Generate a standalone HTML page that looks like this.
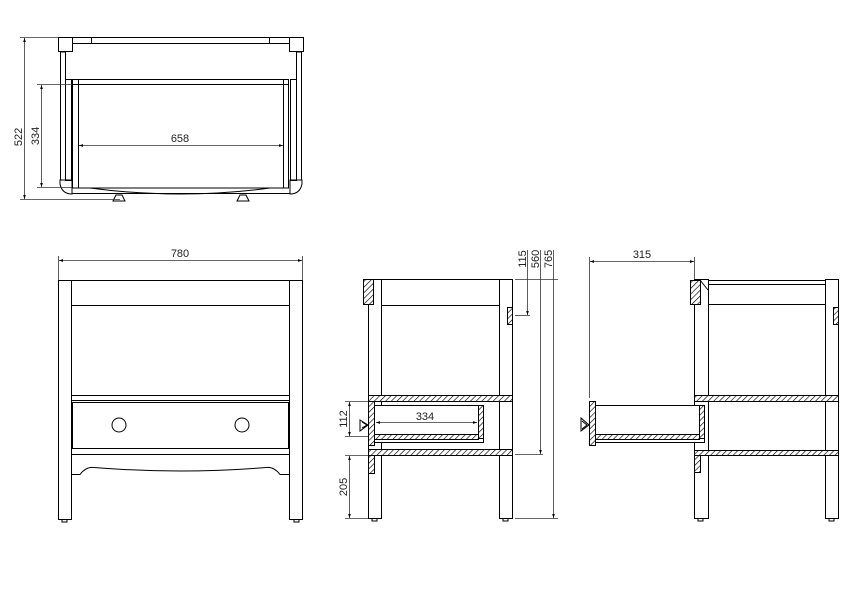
<!DOCTYPE html>
<html><head><meta charset="utf-8"><style>
html,body{margin:0;padding:0;background:#fff;}
svg{display:block;}
text{font-family:"Liberation Sans",sans-serif;font-size:11px;fill:#222;}
</style></head><body>
<svg width="853" height="598" viewBox="0 0 853 598" xmlns="http://www.w3.org/2000/svg">
<defs>
<pattern id="h" patternUnits="userSpaceOnUse" width="4" height="4" patternTransform="rotate(45)">
<rect width="4" height="4" fill="#fff"/><line x1="0" y1="0" x2="0" y2="4" stroke="#000" stroke-width="1.3"/>
</pattern>
<marker id="a" viewBox="0 0 6 6" refX="6" refY="3" markerWidth="5" markerHeight="5" orient="auto-start-reverse"><path d="M0,1 L6,3 L0,5z" fill="#000"/></marker>
</defs>
<g fill="none" stroke="#000" stroke-width="1">
<!-- TOP VIEW -->
<rect x="58.5" y="37.5" width="14" height="14" fill="#fff"/>
<rect x="289.5" y="37.5" width="14" height="14" fill="#fff"/>
<rect x="72.5" y="37.5" width="217" height="6"/>
<line x1="91.5" y1="37" x2="91.5" y2="43"/><line x1="269.5" y1="37" x2="269.5" y2="43"/>
<rect x="60.5" y="52" width="5" height="128"/>
<rect x="296.5" y="52" width="5" height="128"/>
<rect x="65.5" y="79.5" width="6" height="101"/>
<rect x="290.5" y="79.5" width="6" height="101"/>
<rect x="72.5" y="79.5" width="216" height="108.5"/>
<line x1="72" y1="84.5" x2="289" y2="84.5"/>
<line x1="78.5" y1="80" x2="78.5" y2="188"/><line x1="283.5" y1="80" x2="283.5" y2="188"/>
<path d="M60,180 h12 v14 q-10,0 -12,-10z"/>
<path d="M302,180 h-12 v14 q10,0 12,-10z"/>
<line x1="72" y1="193.5" x2="290" y2="193.5"/>
<path d="M90,188 q90,12 180,0"/>
<path d="M113,201 l3,-6 h6 l3,6z M237,201 l3,-6 h6 l3,6z"/>
<!-- top dims -->
<g stroke="#333" stroke-width="0.8">
<line x1="20" y1="37.5" x2="58" y2="37.5"/><line x1="20" y1="199.5" x2="120" y2="199.5"/>
<line x1="24.5" y1="38" x2="24.5" y2="199" marker-start="url(#a)" marker-end="url(#a)"/>
<line x1="37" y1="84.5" x2="72" y2="84.5"/><line x1="37" y1="187.5" x2="72" y2="187.5"/>
<line x1="41.5" y1="85" x2="41.5" y2="187" marker-start="url(#a)" marker-end="url(#a)"/>
<line x1="79" y1="145.5" x2="283" y2="145.5" marker-start="url(#a)" marker-end="url(#a)"/>
</g>
<!-- FRONT VIEW -->
<rect x="58.5" y="280.5" width="13" height="239"/>
<rect x="289.5" y="280.5" width="13" height="239"/>
<line x1="71" y1="280.5" x2="290" y2="280.5"/>
<line x1="71" y1="305.5" x2="290" y2="305.5"/>
<line x1="71" y1="395.5" x2="290" y2="395.5"/>
<line x1="71" y1="400.5" x2="290" y2="400.5"/>
<rect x="72.5" y="402.5" width="216" height="46"/>
<line x1="71" y1="454.5" x2="290" y2="454.5"/>
<path d="M71,474.5 h9 q6,-8 14,-7 q86,7 172,0 q8,-1 14,7 h9"/>
<circle cx="119" cy="425" r="7"/><circle cx="242" cy="425" r="7"/>
<rect x="62" y="519.5" width="5" height="2.5"/><rect x="294" y="519.5" width="5" height="2.5"/>
<g stroke="#333" stroke-width="0.8">
<line x1="58.5" y1="256" x2="58.5" y2="280"/><line x1="302.5" y1="256" x2="302.5" y2="280"/>
<line x1="59" y1="260.5" x2="302" y2="260.5" marker-start="url(#a)" marker-end="url(#a)"/>
</g>
<!-- SIDE VIEW -->
<rect x="368.5" y="279.5" width="13" height="239"/>
<rect x="499.5" y="279.5" width="13" height="239"/>
<rect x="381.5" y="279.5" width="118" height="26"/>
<rect x="363.5" y="279.5" width="10" height="25" fill="url(#h)"/>
<rect x="507.5" y="307.5" width="5" height="17" fill="url(#h)"/>
<rect x="368.5" y="395.5" width="144" height="6" fill="url(#h)"/>
<rect x="368.5" y="449.5" width="144" height="6" fill="url(#h)"/>
<rect x="373.5" y="405.5" width="110" height="37" fill="#fff"/>
<rect x="368.5" y="401.5" width="6" height="44" fill="url(#h)"/>
<rect x="478.5" y="405.5" width="5" height="33" fill="url(#h)"/>
<rect x="374.5" y="434.5" width="104" height="5" fill="url(#h)"/>
<rect x="368.5" y="455.5" width="6" height="18" fill="url(#h)"/>
<path d="M360,420 l8,5 l-8,6z M362,422 l5,3 l-5,3"/>
<rect x="372" y="518.5" width="5" height="2.5"/><rect x="503" y="518.5" width="5" height="2.5"/>
<g stroke="#333" stroke-width="0.8">
<line x1="515" y1="279.5" x2="558" y2="279.5"/><line x1="515" y1="315.5" x2="530" y2="315.5"/>
<line x1="515" y1="454.5" x2="543" y2="454.5"/><line x1="515" y1="518.5" x2="558" y2="518.5"/>
<line x1="527.5" y1="250" x2="527.5" y2="315" marker-end="url(#a)"/>
<line x1="540.5" y1="250" x2="540.5" y2="454" marker-end="url(#a)"/>
<line x1="553.5" y1="250" x2="553.5" y2="518" marker-end="url(#a)"/>
<line x1="345" y1="401.5" x2="368" y2="401.5"/><line x1="345" y1="436.5" x2="368" y2="436.5"/>
<line x1="349.5" y1="402" x2="349.5" y2="436" marker-start="url(#a)" marker-end="url(#a)"/>
<line x1="345" y1="455.5" x2="368" y2="455.5"/><line x1="345" y1="518.5" x2="368" y2="518.5"/>
<line x1="349.5" y1="456" x2="349.5" y2="518" marker-start="url(#a)" marker-end="url(#a)"/>
<line x1="376" y1="422.5" x2="477" y2="422.5" marker-start="url(#a)" marker-end="url(#a)"/>
</g>
<!-- RIGHT VIEW -->
<rect x="694.5" y="279.5" width="14" height="239"/>
<rect x="825.5" y="279.5" width="13" height="239"/>
<rect x="708.5" y="280.5" width="117" height="24"/>
<line x1="708" y1="284.5" x2="825" y2="284.5"/>
<rect x="690.5" y="280.5" width="10" height="24" fill="url(#h)"/>
<line x1="700" y1="280" x2="708" y2="290"/>
<rect x="833.5" y="307.5" width="5" height="17" fill="url(#h)"/>
<rect x="694.5" y="395.5" width="144" height="6" fill="url(#h)"/>
<rect x="694.5" y="450.5" width="144" height="5" fill="url(#h)"/>
<rect x="694.5" y="455.5" width="6" height="17" fill="url(#h)"/>
<rect x="595.5" y="405.5" width="109" height="37" fill="#fff"/>
<rect x="589.5" y="401.5" width="6" height="44" fill="url(#h)"/>
<rect x="699.5" y="405.5" width="5" height="33" fill="url(#h)"/>
<rect x="595.5" y="434.5" width="104" height="5" fill="url(#h)"/>
<path d="M581,418 l8,7 l-8,6z M582,421 l5,4 l-5,4"/>
<rect x="698" y="518.5" width="5" height="2.5"/><rect x="829" y="518.5" width="5" height="2.5"/>
<g stroke="#333" stroke-width="0.8">
<line x1="589.5" y1="257" x2="589.5" y2="398"/><line x1="694.5" y1="257" x2="694.5" y2="279"/>
<line x1="590" y1="261.5" x2="694" y2="261.5" marker-start="url(#a)" marker-end="url(#a)"/>
</g>
</g>
<text x="180" y="142" text-anchor="middle">658</text>
<text transform="translate(22,137) rotate(-90)" text-anchor="middle">522</text>
<text transform="translate(39,136) rotate(-90)" text-anchor="middle">334</text>
<text x="180" y="257" text-anchor="middle">780</text>
<text x="425" y="420" text-anchor="middle">334</text>
<text transform="translate(347,419) rotate(-90)" text-anchor="middle">112</text>
<text transform="translate(347,487) rotate(-90)" text-anchor="middle">205</text>
<text transform="translate(526,259) rotate(-90)" text-anchor="middle">115</text>
<text transform="translate(539,259) rotate(-90)" text-anchor="middle">560</text>
<text transform="translate(552,259) rotate(-90)" text-anchor="middle">765</text>
<text x="642" y="258" text-anchor="middle">315</text>
</svg>
</body></html>
